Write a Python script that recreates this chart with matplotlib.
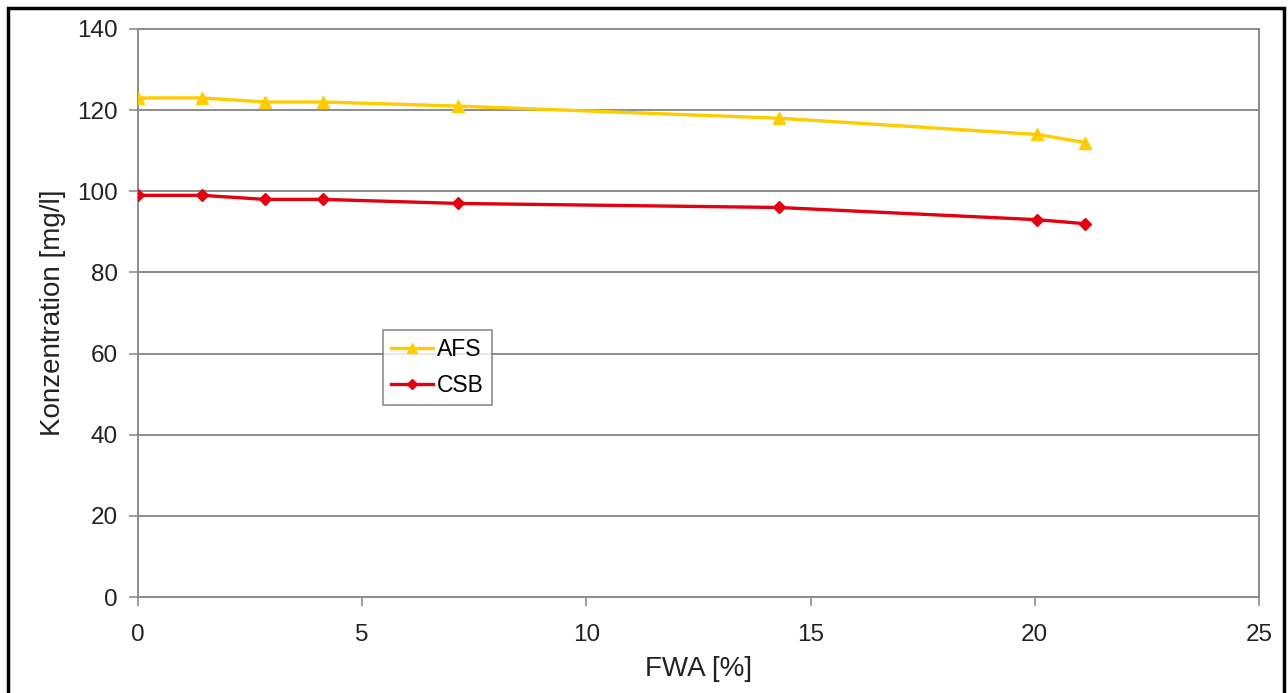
import matplotlib
matplotlib.use('Agg')
import matplotlib.pyplot as plt
from matplotlib.patches import Rectangle

# data
fwa = [0, 1.43, 2.83, 4.13, 7.13, 14.3, 20.05, 21.13]
afs = [123, 123, 122, 122, 121, 118, 114, 112]
csb = [99, 99, 98, 98, 97, 96, 93, 92]
yticks = [0, 20, 40, 60, 80, 100, 120, 140]
xticks = [0, 5, 10, 15, 20, 25]

plt.rcParams['font.family'] = ['Liberation Sans', 'DejaVu Sans']

fig = plt.figure(figsize=(12.88, 6.93), dpi=100)
ax = fig.add_axes([0.1071, 0.1385, 0.8704, 0.8197])

ax.plot(fwa, afs, color='#FFCC00', lw=2.4, marker='^', ms=8.5, label='AFS', zorder=3)
ax.plot(fwa, csb, color='#E3000F', lw=2.4, marker='D', ms=6.5, label='CSB', zorder=3)

ax.set_xlim(0, 25)
ax.set_ylim(0, 140)
ax.set_xticks(xticks)
ax.set_yticks(yticks)
ax.yaxis.grid(True, color='#8c8c8c', lw=1.4)
ax.set_axisbelow(True)
for s in ax.spines.values():
    s.set_color('#8c8c8c')
    s.set_linewidth(1.4)
ax.tick_params(colors='#8c8c8c', labelcolor='#222222', labelsize=17.5, length=6.5, width=1.2)
ax.tick_params(axis='x', pad=13)
ax.tick_params(axis='y', pad=8)
ax.set_xlabel('FWA [%]', fontsize=20, color='#222222', labelpad=7)
ax.set_ylabel('Konzentration [mg/l]', fontsize=20, color='#222222', labelpad=8)

leg = ax.legend(loc='upper left', bbox_to_anchor=(383 / 1288, 1 - 330 / 693),
                bbox_transform=fig.transFigure, fontsize=16.5, frameon=True,
                fancybox=False, borderpad=0.35, handlelength=1.85, handletextpad=0.15,
                labelspacing=0.55, borderaxespad=0, markerscale=0.8)
leg.get_frame().set_edgecolor('#707070')
leg.get_frame().set_linewidth(1.2)

# black frame around the whole chart
fig.patches.append(Rectangle((8 / 1288, -0.05), 1276 / 1288, 1.05 - 8 / 693,
                             transform=fig.transFigure, fill=False,
                             edgecolor='black', lw=2.5))

fig.savefig('out.png', dpi=100)
